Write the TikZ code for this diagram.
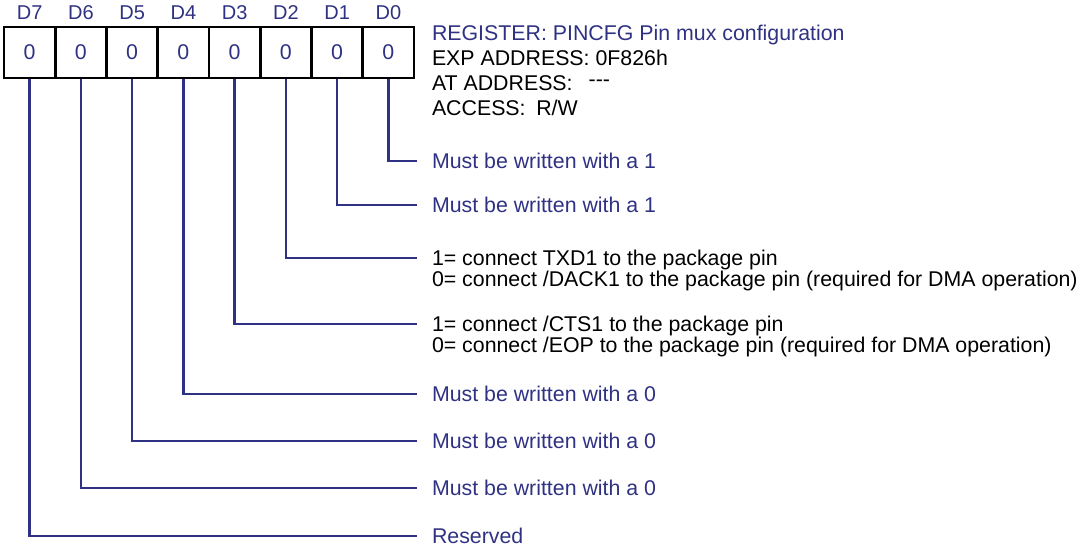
\documentclass[tikz,border=0pt]{standalone}
\usepackage{fontspec}
\setmainfont{Liberation Sans}
\usetikzlibrary{positioning}
\definecolor{regblue}{RGB}{47,50,130}

\begin{document}
\begin{tikzpicture}[x=0.75pt,y=-0.75pt,
	cell/.style={draw,line width=1.9pt,minimum width=38.4pt,minimum height=38.25pt,inner sep=0pt,text=regblue,font=\fontsize{16}{19}\selectfont},
	bitlbl/.style={inner sep=0pt,text=regblue,font=\fontsize{15}{18}\selectfont,text height=10.8pt,text depth=0pt},
	txt/.style={anchor=west,inner sep=0pt,outer xsep=11.25pt,font=\fontsize{16}{19}\selectfont,text height=11.5pt,text depth=0pt},
	wire/.style={line width=1.9pt,color=regblue}]
	\useasboundingbox (0,0) rectangle (1081,550);
	% register cells and bit names
	\foreach \b in {0,...,7} {
		\node[cell] (c\b) at ({4+51.25*(7.5-\b)},52.5) {0};
		\node[bitlbl,above=4.6pt of c\b] (d\b) {D\b};
	}
	% header
	\node[txt,text=regblue] (hreg) at (417,33.3) {REGISTER: PINCFG Pin mux configuration};
	\node[txt] (hexp) at (417,58.3) {EXP ADDRESS: 0F826h};
	\node[txt] (hat) at (417,83.3) {AT ADDRESS:\hspace{12pt}\raisebox{3pt}{-{}-{}-}};
	\node[txt] (hacc) at (417,108.3) {ACCESS:\hspace{8pt}R/W};
	% bit descriptions
	\node[txt,text=regblue] (t0) at (417,161) {Must be written with a 1};
	\node[txt,text=regblue] (t1) at (417,205) {Must be written with a 1};
	\node[txt] (t2) at (417,258) {1= connect TXD1 to the package pin};
	\node[txt,below=3.75pt of t2.south west,anchor=north west] (t2b) {0= connect /DACK1 to the package pin (required for DMA operation)};
	\node[txt] (t3) at (417,324) {1= connect /CTS1 to the package pin};
	\node[txt,below=3.75pt of t3.south west,anchor=north west] (t3b) {0= connect /EOP to the package pin (required for DMA operation)};
	\node[txt,text=regblue] (t4) at (417,394) {Must be written with a 0};
	\node[txt,text=regblue] (t5) at (417,441) {Must be written with a 0};
	\node[txt,text=regblue] (t6) at (417,488) {Must be written with a 0};
	\node[txt,text=regblue] (t7) at (417,536) {Reserved};
	% leaders
	\foreach \b in {0,...,7}
		\draw[wire] (c\b.south) |- (t\b.west);
\end{tikzpicture}
\end{document}
